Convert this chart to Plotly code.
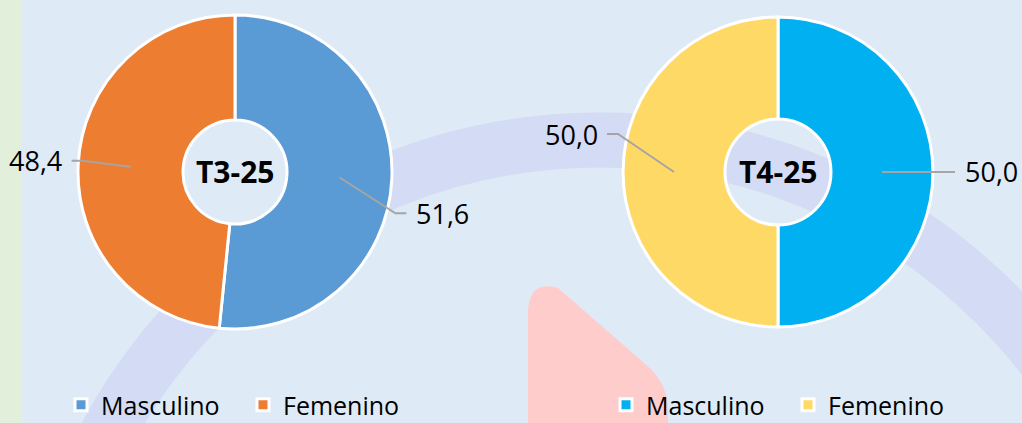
import math
import plotly.graph_objects as go

# ---- data ----
labels = ["Masculino", "Femenino"]
t3_values = [51.6, 48.4]
t4_values = [50.0, 50.0]
t3_title = "T3-25"
t4_title = "T4-25"
t3_colors = ["#5B9BD5", "#ED7D31"]
t4_colors = ["#00B0F0", "#FFD966"]

# ---- layout constants ----
W, H = 1022, 423
BG = "#DEEAF6"
FONT = "Open Sans"

def px(x):
    return x / W

def py(y):
    return 1 - y / H

# donut geometry (pixels): center x, center y, outer radius, hole radius
donuts = [
    dict(values=t3_values, colors=t3_colors, title=t3_title, cx=235, cy=172, r=157, hole=52,
         legend="legend", suffix="", offsets=[(103, 36), (-95, -6)]),
    dict(values=t4_values, colors=t4_colors, title=t4_title, cx=778, cy=172, r=155, hole=53,
         legend="legend2", suffix=" ", offsets=[(109, 0), (-103, -38)]),
]

fig = go.Figure()
shapes = []
annotations = []

# decorative background elements
shapes.append(dict(type="rect", xref="paper", yref="paper", x0=0, x1=px(22), y0=0, y1=1,
                   fillcolor="#E2EFDA", line=dict(width=0), layer="below"))
rc, cx0, cy0 = 560, 600, 700
shapes.append(dict(type="circle", xref="paper", yref="paper",
                   x0=px(cx0 - rc), x1=px(cx0 + rc), y0=py(cy0 + rc), y1=py(cy0 - rc),
                   line=dict(color="#D3DBF5", width=55), fillcolor="rgba(0,0,0,0)", layer="below"))
pink = "M {},{} L {},{} Q {},{} {},{} L {},{} Q {},{} {},{} L {},{} Z".format(
    px(528), py(430), px(528), py(310), px(530), py(280), px(558), py(288),
    px(652), py(370), px(668), py(388), px(668), py(410), px(668), py(430))
shapes.append(dict(type="path", xref="paper", yref="paper", path=pink,
                   fillcolor="#FFCCCC", line=dict(width=0), layer="below"))

for d in donuts:
    cx, cy, r = d["cx"], d["cy"], d["r"]
    fig.add_trace(go.Pie(
        labels=[l + d["suffix"] for l in labels], values=d["values"], sort=False,
        direction="clockwise", rotation=0,
        hole=d["hole"] / r, textinfo="none", hoverinfo="label+value",
        marker=dict(colors=d["colors"], line=dict(color="white", width=3)),
        domain=dict(x=[px(cx - r), px(cx + r)], y=[py(cy + r), py(cy - r)]),
        legend=d["legend"], showlegend=True,
    ))
    annotations.append(dict(text="<b>%s</b>" % d["title"], x=px(cx), y=py(cy), xref="paper", yref="paper",
                            xanchor="center", yanchor="middle",
                            showarrow=False, font=dict(family=FONT, size=30, color="black")))
    total = sum(d["values"])
    cum = 0
    rmid = (r + d["hole"]) / 2
    for v, (dx, dy) in zip(d["values"], d["offsets"]):
        theta = 2 * math.pi * (cum + v / 2) / total
        cum += v
        ax = cx + rmid * math.sin(theta)
        ay = cy - rmid * math.cos(theta)
        tx, ty = ax + dx, ay + dy
        side = 1 if dx > 0 else -1
        endx = tx - side * 36
        elbx = endx - side * 11
        path = "M {},{} L {},{} L {},{}".format(px(ax), py(ay), px(elbx), py(ty), px(endx), py(ty))
        shapes.append(dict(type="path", xref="paper", yref="paper", path=path,
                           line=dict(color="#A5A5A5", width=2)))
        annotations.append(dict(text=("%.1f" % v).replace(".", ","), x=px(tx), y=py(ty),
                                xref="paper", yref="paper", showarrow=False,
                                xanchor="center", yanchor="middle",
                                font=dict(family=FONT, size=27, color="black")))

legend_common = dict(orientation="h", xanchor="left", yanchor="middle", bgcolor="rgba(0,0,0,0)",
                     font=dict(family=FONT, size=25, color="black"), itemclick=False,
                     traceorder="normal", entrywidth=137, entrywidthmode="pixels")
fig.update_layout(
    width=W, height=H,
    margin=dict(l=0, r=0, t=0, b=0, autoexpand=False),
    paper_bgcolor=BG, plot_bgcolor=BG,
    font=dict(family=FONT),
    shapes=shapes, annotations=annotations,
    legend=dict(x=px(61), y=py(405), **legend_common),
    legend2=dict(x=px(606), y=py(405), **legend_common),
)

fig.write_html("out.html", config={"displayModeBar": False},
               post_script="document.body.style.margin='0';")
